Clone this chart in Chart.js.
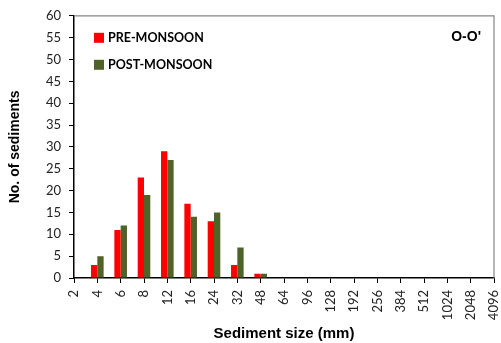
<!DOCTYPE html>
<html>
<head>
<meta charset="utf-8">
<script src="https://cdn.jsdelivr.net/npm/chart.js@4"></script>
<style>
  html, body { margin: 0; padding: 0; background: #fff; }
  #wrap { width: 501px; height: 343px; }
</style>
</head>
<body>
<div id="wrap"><canvas id="sizeChart" width="501" height="343"></canvas></div>
<script>
// sediment size classes (mm) and counts
var sizes = ['2', '4', '6', '8', '12', '16', '24', '32', '48', '64', '96', '128', '192', '256', '384', '512', '1024', '2048', '4096'];
var preMonsoon  = [0, 3, 11, 23, 29, 17, 13, 3, 1, 0, 0, 0, 0, 0, 0, 0, 0, 0, 0];
var postMonsoon = [0, 5, 12, 19, 27, 14, 15, 7, 1, 0, 0, 0, 0, 0, 0, 0, 0, 0, 0];
var yTicks = [0, 5, 10, 15, 20, 25, 30, 35, 40, 45, 50, 55, 60];
var sectionLabel = "O-O'";

// legend inside the plot + frame + section tag
var decor = {
  id: 'decor',
  afterDraw: function (chart) {
    var ctx = chart.ctx, a = chart.chartArea;
    ctx.save();
    // grey frame on top and right
    ctx.strokeStyle = '#858585';
    ctx.lineWidth = 1.2;
    ctx.beginPath();
    ctx.moveTo(a.left, a.top);
    ctx.lineTo(a.right, a.top);
    ctx.lineTo(a.right, a.bottom);
    ctx.stroke();

    ctx.textBaseline = 'middle';
    ctx.font = 'bold 12.5px Lato';
    chart.data.datasets.forEach(function (ds, i) {
      var y = a.top + 22 + i * 27;
      ctx.fillStyle = ds.backgroundColor;
      ctx.fillRect(a.left + 20, y - 5, 10, 10);
      ctx.fillStyle = '#000';
      ctx.fillText(ds.label, a.left + 34, y);
    });

    ctx.font = 'bold 14px "Liberation Sans"';
    ctx.textAlign = 'right';
    ctx.fillText(sectionLabel, a.right - 13, a.top + 21);
    ctx.restore();
  }
};

var ctx = document.getElementById('sizeChart').getContext('2d');
var chart = new Chart(ctx, {
  type: 'bar',
  data: {
    labels: sizes,
    datasets: [{
      label: 'PRE-MONSOON',
      data: preMonsoon,
      backgroundColor: '#FF0000',
      categoryPercentage: 0.54,
      barPercentage: 1
    }, {
      label: 'POST-MONSOON',
      data: postMonsoon,
      backgroundColor: '#4F6228',
      categoryPercentage: 0.54,
      barPercentage: 1
    }]
  },
  options: {
    responsive: false,
    animation: false,
    layout: { padding: { top: 14, right: 7, left: 0, bottom: 0 } },
    plugins: {
      legend: { display: false },
      tooltip: { enabled: false }
    },
    scales: {
      x: {
        offset: false,
        grid: { offset: false, drawOnChartArea: false, color: '#000', tickLength: 5 },
        border: { color: '#000', width: 1.5 },
        ticks: {
          minRotation: 90, maxRotation: 90, autoSkip: false, padding: 7,
          color: '#222', font: { family: 'Lato', size: 13 }
        },
        title: {
          display: true, text: 'Sediment size (mm)', color: '#000',
          font: { family: 'Liberation Sans', size: 15, weight: 'bold' },
          padding: { top: 1, bottom: 0 }
        },
        afterFit: function (s) { s.height = 65; s.paddingLeft = 0; s.paddingRight = 0; }
      },
      y: {
        min: 0, max: 60,
        afterBuildTicks: function (s) { s.ticks = yTicks.map(function (v) { return { value: v }; }); },
        grid: { drawOnChartArea: false, color: '#000', tickLength: 5 },
        border: { color: '#000', width: 1.5 },
        ticks: { padding: 8, color: '#222', font: { family: 'Lato', size: 13 } },
        title: {
          display: true, text: 'No. of sediments', color: '#000',
          font: { family: 'Liberation Sans', size: 14, weight: 'bold' },
          padding: { top: 7, bottom: 0 }
        },
        afterFit: function (s) { s.width = 74; }
      }
    }
  },
  plugins: [decor]
});
</script>
</body>
</html>
